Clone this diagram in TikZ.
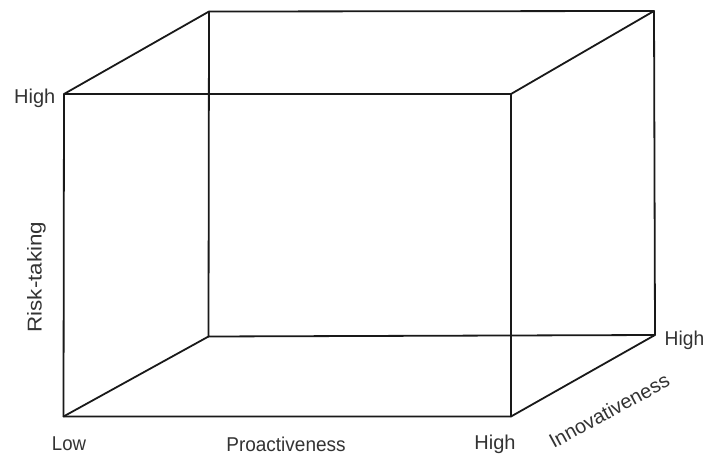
\documentclass[tikz,border=0pt]{standalone}
\usepackage{fontspec}
\setmainfont{Liberation Sans}
\begin{document}
\begin{tikzpicture}[x=1pt,y=-1pt,
  edge/.style={line width=1.8pt,draw=black!90,line cap=round,line join=round},
  lbl/.style={font=\fontsize{20}{24}\selectfont,text=black!80,inner sep=0pt}]
\useasboundingbox[fill=white] (0,0) rectangle (704,455);
% front face
\coordinate (ftl) at (64,94);
\coordinate (ftr) at (511,94);
\coordinate (fbl) at (63.5,416.5);
\coordinate (fbr) at (511,416.5);
% back face
\coordinate (btl) at (209,11.5);
\coordinate (btr) at (654,11);
\coordinate (bbl) at (208.5,336.5);
\coordinate (bbr) at (655,335);
\draw[edge] (btl) -- (btr) -- (bbr) -- (bbl) -- cycle;
\draw[edge] (ftl) -- (ftr) -- (fbr) -- (fbl) -- cycle;
\draw[edge] (ftl) -- (btl);
\draw[edge] (ftr) -- (btr);
\draw[edge] (fbl) -- (bbl);
\draw[edge] (fbr) -- (bbr);
% labels
\node[lbl,anchor=base east] (hightl) at (55.5,103.5) {High};
\node[lbl,anchor=base] (low) at (69,450) {\scalebox{0.93}[1]{Low}};
\node[lbl,anchor=base] (pro) at (286,451) {\scalebox{0.95}[1]{Proactiveness}};
\node[lbl,anchor=base] (highbr) at (495,449) {High};
\node[lbl,anchor=base west] (highr) at (664.5,345.5) {\scalebox{0.96}[1]{High}};
\node[lbl,rotate=90,anchor=base] (risk) at (41.5,277) {\scalebox{1.12}[1]{Risk-taking}};
\node[lbl,rotate=28.5,anchor=base] (innov) at (612.5,417) {Innovativeness};
\end{tikzpicture}
\end{document}
